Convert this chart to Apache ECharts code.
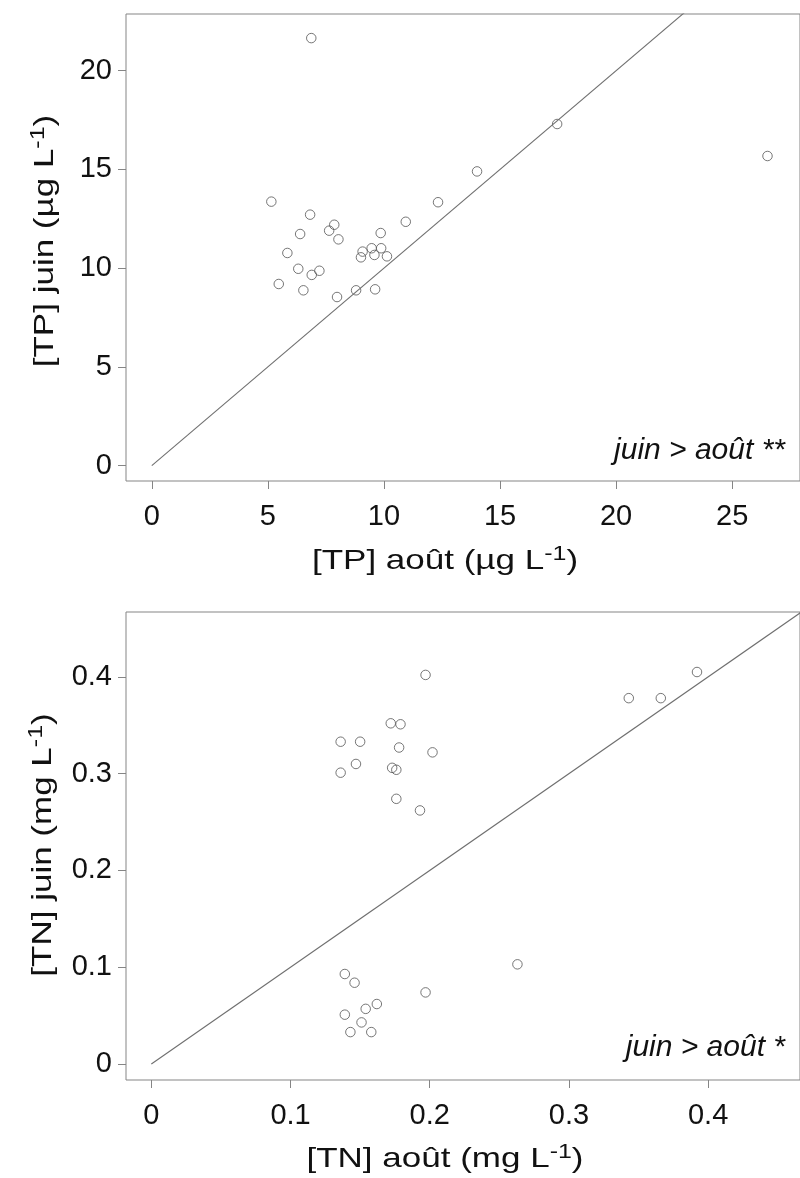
<!DOCTYPE html>
<html>
<head>
<meta charset="utf-8">
<script src="https://cdn.jsdelivr.net/npm/echarts@6/dist/echarts.min.js"></script>
<style>
  html, body { margin: 0; padding: 0; background: #ffffff; }
  #chart { width: 800px; height: 1178px; }
</style>
</head>
<body>
<div id="chart"></div>
<script>
// Total phosphorus, August vs June (µg/L), one point per site
const tpAout = [6.87, 17.46, 26.52, 14.01, 5.15, 12.33, 6.82, 7.86, 7.64, 10.94,
                9.86, 8.04, 6.39, 5.84, 9.08, 9.47, 9.88, 9.01, 9.59, 10.13,
                6.31, 7.22, 6.89, 5.47, 6.53, 7.98, 8.80, 9.62];
const tpJuin = [21.65, 17.30, 15.68, 14.90, 13.37, 13.34, 12.71, 12.20, 11.90, 12.35,
                11.78, 11.46, 11.73, 10.77, 10.84, 11.01, 11.01, 10.55, 10.67, 10.60,
                9.97, 9.87, 9.66, 9.20, 8.88, 8.54, 8.88, 8.93];
const tpXTicks = [0, 5, 10, 15, 20, 25];
const tpYTicks = [0, 5, 10, 15, 20];
const tpLine = [0, 30];

// Total nitrogen, August vs June (mg/L)
const tnAout = [0.197, 0.343, 0.366, 0.392, 0.172, 0.179, 0.136, 0.150, 0.178, 0.202,
                0.147, 0.136, 0.173, 0.176, 0.176, 0.193, 0.263, 0.139, 0.146, 0.197,
                0.162, 0.154, 0.139, 0.151, 0.143, 0.158];
const tnJuin = [0.402, 0.378, 0.378, 0.405, 0.352, 0.351, 0.333, 0.333, 0.327, 0.322,
                0.310, 0.301, 0.306, 0.304, 0.274, 0.262, 0.103, 0.093, 0.084, 0.074,
                0.062, 0.057, 0.051, 0.043, 0.033, 0.033];
const tnXTicks = [0, 0.1, 0.2, 0.3, 0.4];
const tnYTicks = [0, 0.1, 0.2, 0.3, 0.4];
const tnLine = [0, 0.6];

// Axis titles (rich text: {sup|...} is a superscript) and test annotations
const tpXTitle = '[TP] août (µg L{sup|-1})';
const tpYTitle = '[TP] juin (µg L{sup|-1})';
const tnXTitle = '[TN] août (mg L{sup|-1})';
const tnYTitle = '[TN] juin (mg L{sup|-1})';
const tpNote = 'juin > août **';
const tnNote = 'juin > août *';

const FONT = '"Liberation Sans", Arial, Helvetica, sans-serif';
const INK = '#111111';
const FRAME = '#858585';

function xAxisCfg(grid, min, max, ticks) {
  return {
    gridIndex: grid, type: 'value', min: min, max: max,
    axisLine: { show: false, onZero: false },
    splitLine: { show: false },
    axisTick: { show: true, length: 8, lineStyle: { color: FRAME, width: 1 }, customValues: ticks },
    axisLabel: { customValues: ticks, fontSize: 29, color: INK, fontFamily: FONT, margin: 21 }
  };
}
function yAxisCfg(grid, min, max, ticks) {
  return {
    gridIndex: grid, type: 'value', min: min, max: max,
    axisLine: { show: false, onZero: false },
    splitLine: { show: false },
    axisTick: { show: true, length: 8, lineStyle: { color: FRAME, width: 1 }, customValues: ticks },
    axisLabel: { customValues: ticks, fontSize: 29, color: INK, fontFamily: FONT, margin: 14 }
  };
}

// Axis title drawn as a widened text block, optionally turned to read upwards
function title(text, x, y, vertical) {
  return {
    type: 'text', x: x, y: y, rotation: vertical ? Math.PI / 2 : 0, scaleX: 1.25, silent: true,
    style: {
      text: text, fontSize: 28, fontFamily: FONT, fill: INK, align: 'center', verticalAlign: 'middle',
      rich: { sup: { fontSize: 20, fontFamily: FONT, fill: INK, padding: [0, 0, 14, 0] } }
    }
  };
}

const pointStyle = { color: 'rgba(0,0,0,0)', borderColor: '#555555', borderWidth: 1 };

const chart = echarts.init(document.getElementById('chart'), null, { renderer: 'canvas' });
chart.setOption({
  animation: false,
  backgroundColor: '#ffffff',
  grid: [
    { left: 126, top: 14, width: 680, height: 467, show: true, borderColor: FRAME, borderWidth: 1, backgroundColor: 'transparent' },
    { left: 126, top: 612, width: 680, height: 468, show: true, borderColor: FRAME, borderWidth: 1, backgroundColor: 'transparent' }
  ],
  xAxis: [
    xAxisCfg(0, -1.11, 27.92, tpXTicks),
    xAxisCfg(1, -0.0182, 0.466, tnXTicks)
  ],
  yAxis: [
    yAxisCfg(0, -0.775, 22.87, tpYTicks),
    yAxisCfg(1, -0.0165, 0.467, tnYTicks)
  ],
  series: [
    {
      type: 'line', xAxisIndex: 0, yAxisIndex: 0, showSymbol: false, clip: true, silent: true,
      lineStyle: { color: '#6f6f6f', width: 1.1 },
      data: tpLine.map(v => [v, v])
    },
    {
      type: 'scatter', xAxisIndex: 0, yAxisIndex: 0, symbol: 'circle', symbolSize: 9.5,
      itemStyle: pointStyle,
      data: tpAout.map((x, i) => [x, tpJuin[i]])
    },
    {
      type: 'line', xAxisIndex: 1, yAxisIndex: 1, showSymbol: false, clip: true, silent: true,
      lineStyle: { color: '#6f6f6f', width: 1.1 },
      data: tnLine.map(v => [v, v])
    },
    {
      type: 'scatter', xAxisIndex: 1, yAxisIndex: 1, symbol: 'circle', symbolSize: 9.5,
      itemStyle: pointStyle,
      data: tnAout.map((x, i) => [x, tnJuin[i]])
    }
  ],
  graphic: [
    title(tpXTitle, 445, 561, false),
    title(tpYTitle, 45, 241, true),
    title(tnXTitle, 445, 1159, false),
    title(tnYTitle, 43, 845, true),
    { type: 'text', right: 15, top: 436, style: { text: tpNote, font: 'italic 30px ' + FONT, fill: INK } },
    { type: 'text', right: 15, top: 1033, style: { text: tnNote, font: 'italic 30px ' + FONT, fill: INK } }
  ]
});
</script>
</body>
</html>
